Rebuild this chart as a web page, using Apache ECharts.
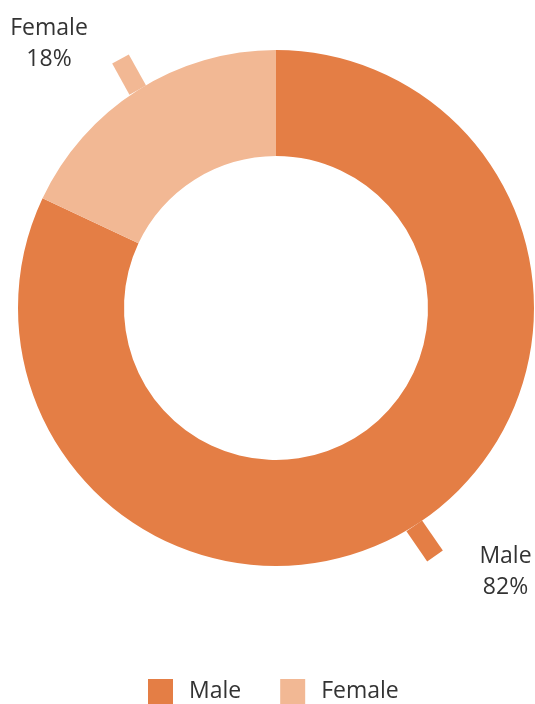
<!DOCTYPE html>
<html lang="en">
    <head>
        <meta charset="utf-8">
        <title>Gender</title>
        <style>
            html, body { margin: 0; padding: 0; background: #fff; }
            #chart { width: 535px; height: 704px; }
        </style>
    </head>
    <body>
        <div id="chart"></div>
        <script src="https://cdn.jsdelivr.net/npm/echarts@6/dist/echarts.min.js"></script>
        <script type="text/javascript">
            // categories and shares (%)
            var names = ['Male', 'Female'];
            var shares = [82, 18];
            var colors = ['#e47e45', '#f2b894'];

            var myChart = echarts.init(document.getElementById('chart'));

            // label boxes: an empty line and some padding keep the pointer short of the text
            var labelBoxes = {
                Male: { x: 482, y: 556, padding: [0, 0, 0, 47], pre: '\n', post: '' },
                Female: { x: 65, y: 59, padding: [0, 32, 0, 0], pre: '', post: '\n' }
            };

            var data = [];
            for (var i = 0; i < names.length; i++) {
                data.push({
                    name: names[i],
                    value: shares[i],
                    itemStyle: { color: colors[i] },
                    label: { padding: labelBoxes[names[i]].padding },
                    labelLine: { lineStyle: { color: colors[i] } }
                });
            }

            var option = {
                animation: false,
                legend: {
                    top: 674,
                    left: 143,
                    itemWidth: 25,
                    itemHeight: 25,
                    itemGap: 39,
                    icon: 'rect',
                    textStyle: {
                        fontFamily: 'Open Sans',
                        fontSize: 23,
                        color: '#333',
                        padding: [0, 0, 0, 11]
                    },
                    data: names
                },
                series: [{
                    type: 'pie',
                    center: [276, 308],
                    radius: [152, 258],
                    startAngle: 90,
                    clockwise: true,
                    label: {
                        show: true,
                        position: 'outside',
                        formatter: function (p) {
                            var box = labelBoxes[p.name];
                            return box.pre + p.name + '\n' + p.value + '%' + box.post;
                        },
                        fontFamily: 'Open Sans',
                        fontSize: 23,
                        lineHeight: 31,
                        align: 'center',
                        overflow: 'none',
                        color: '#333'
                    },
                    labelLine: {
                        show: true,
                        length: 22,
                        length2: 0,
                        lineStyle: { width: 19, cap: 'butt' }
                    },
                    labelLayout: function (params) {
                        var box = labelBoxes[names[params.dataIndex]];
                        return {
                            x: box.x,
                            y: box.y,
                            align: 'center',
                            verticalAlign: 'middle'
                        };
                    },
                    data: data
                }]
            };
            myChart.setOption(option);
        </script>
    </body>
</html>
